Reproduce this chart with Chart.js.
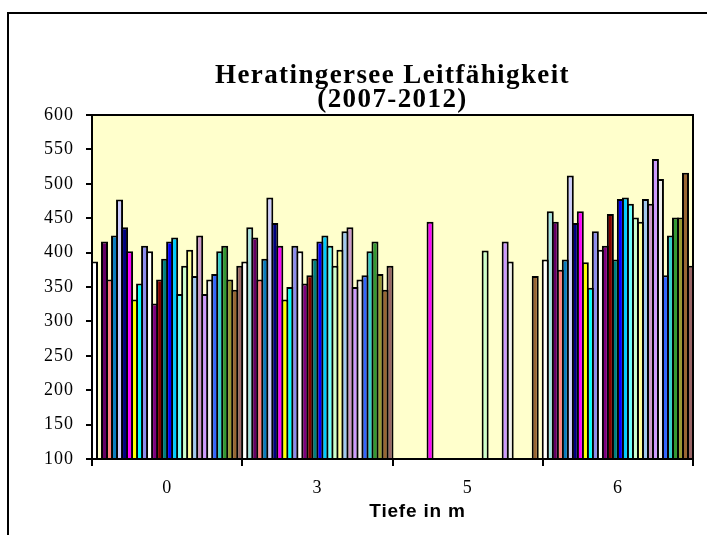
<!DOCTYPE html>
<html>
<head>
<meta charset="utf-8">
<script src="https://cdn.jsdelivr.net/npm/chart.js"></script>
<style>
  body { margin: 0; background: #fff; }
  canvas { display: block; }
</style>
</head>
<body>
<canvas id="myChart" width="707" height="535"></canvas>
<script>
// depth categories (x axis)
const tiefen = ['0', '3', '5', '6'];

const tiefe0 = [387, null, 416, 361, 425, 477, 437, 402, 332, 355, 410, 402, 326, 361, 391,
  416, 422, 340, 381, 404, 366, 425, 340, 361, 369, 402, 410, 361, 346, 381];
const tiefe3 = [387, 437, 422, 361, 391, 480, 443, 410, 332, 350, 410, 402, 355, 367, 391,
  416, 425, 410, 381, 404, 431, 437, 350, 361, 367, 402, 416, 369, 346, 381];
const tiefe5 = [null, null, null, null, null, null, null, 445, null, null, null, null, null, null, null,
  null, null, null, 403, null, null, null, 416, 387, null, null, null, null, 366, null];
const tiefe6 = [390, 460, 445, 375, 390, 512, 443, 460, 386, 349, 431, 404, 410, 456, 390,
  478, 480, 471, 451, 445, 478, 471, 536, 507, 367, 425, 451, 451, 516, 381];

const yTicks = [100, 150, 200, 250, 300, 350, 400, 450, 500, 550, 600];

const titleLines = ['Heratingersee Leitfähigkeit', '(2007-2012)'];
const xTitle = 'Tiefe in m';

const barColors = ['#FFFFFF', '#A4E2E2', '#660066', '#FF8080', '#0A7DC0', '#CCCCFF', '#000080',
  '#FF00FF', '#FFFF00', '#00FFFF', '#8C8CF0', '#FFFFFF', '#800080', '#800000', '#008080',
  '#0000FF', '#00CCFF', '#66FFFF', '#CCFFCC', '#FFFF99', '#A0C8F0', '#CC99CC', '#CC99FF',
  '#EEEEEE', '#3366FF', '#33CCCC', '#339933', '#999933', '#996633', '#996666'];

let datasets = barColors.map((col, i) => {
  return {
    label: 'Serie ' + (i + 1),
    data: [tiefe0[i], tiefe3[i], tiefe5[i], tiefe6[i]],
    backgroundColor: col,
    borderColor: '#000',
    borderWidth: 2,
    borderSkipped: 'bottom',
    categoryPercentage: 1,
    barPercentage: 1.4
  };
});

const serif = 'Liberation Serif, Times New Roman, serif';

// frame, plot background, titles
const excelLook = {
  id: 'excelLook',
  beforeDraw(chart) {
    const c = chart.ctx;
    const a = chart.chartArea;
    c.save();
    c.fillStyle = '#fff';
    c.fillRect(0, 0, chart.width, chart.height);
    c.strokeStyle = '#000';
    c.lineWidth = 2;
    c.beginPath();
    c.moveTo(8, chart.height + 5);
    c.lineTo(8, 13);
    c.lineTo(chart.width + 5, 13);
    c.stroke();
    c.fillStyle = '#FFFFCC';
    c.fillRect(a.left, a.top, a.right - a.left, a.bottom - a.top);
    c.restore();
    // the old Excel text looks a bit wider
    c.letterSpacing = '1px';
  },
  afterDatasetsDraw(chart) {
    const c = chart.ctx;
    const a = chart.chartArea;
    const mid = (a.left + a.right) / 2;
    c.save();
    c.strokeStyle = '#000';
    c.lineWidth = 2;
    c.strokeRect(a.left, a.top, a.right - a.left, a.bottom - a.top);
    c.fillStyle = '#000';
    c.textAlign = 'center';
    c.textBaseline = 'middle';
    c.font = 'bold 27px ' + serif;
    c.letterSpacing = '1.4px';
    c.fillText(titleLines[0], mid, 76);
    c.fillText(titleLines[1], mid, 100);
    c.font = 'bold 19px Liberation Sans, Arial, sans-serif';
    c.letterSpacing = '0.8px';
    c.fillText(xTitle, mid + 25, 512);
    c.restore();
  }
};

const myChart = document.getElementById('myChart');

let barChart = new Chart(myChart, {
  type: 'bar',
  data: {
    labels: tiefen,
    datasets: datasets
  },
  options: {
    responsive: false,
    animation: false,
    layout: { padding: { left: 0, right: 14, top: 115, bottom: 0 } },
    plugins: {
      legend: { display: false },
      tooltip: { enabled: false },
      title: { display: false }
    },
    scales: {
      x: {
        offset: true,
        grid: { offset: true, drawOnChartArea: false, drawTicks: true, tickLength: 7, color: '#000', lineWidth: 2 },
        border: { color: '#000', width: 2 },
        ticks: { color: '#000', font: { family: serif, size: 18 }, padding: 11, maxRotation: 0 },
        afterFit: s => { s.height = 76; }
      },
      y: {
        min: yTicks[0],
        max: yTicks[yTicks.length - 1],
        afterBuildTicks: s => { s.ticks = yTicks.map(v => ({ value: v })); },
        grid: { drawOnChartArea: false, drawTicks: true, tickLength: 6, color: '#000', lineWidth: 2 },
        border: { color: '#000', width: 2 },
        ticks: { color: '#000', font: { family: serif, size: 18 }, padding: 12 },
        afterFit: s => { s.width = 92; }
      }
    }
  },
  plugins: [excelLook]
});
</script>
</body>
</html>
